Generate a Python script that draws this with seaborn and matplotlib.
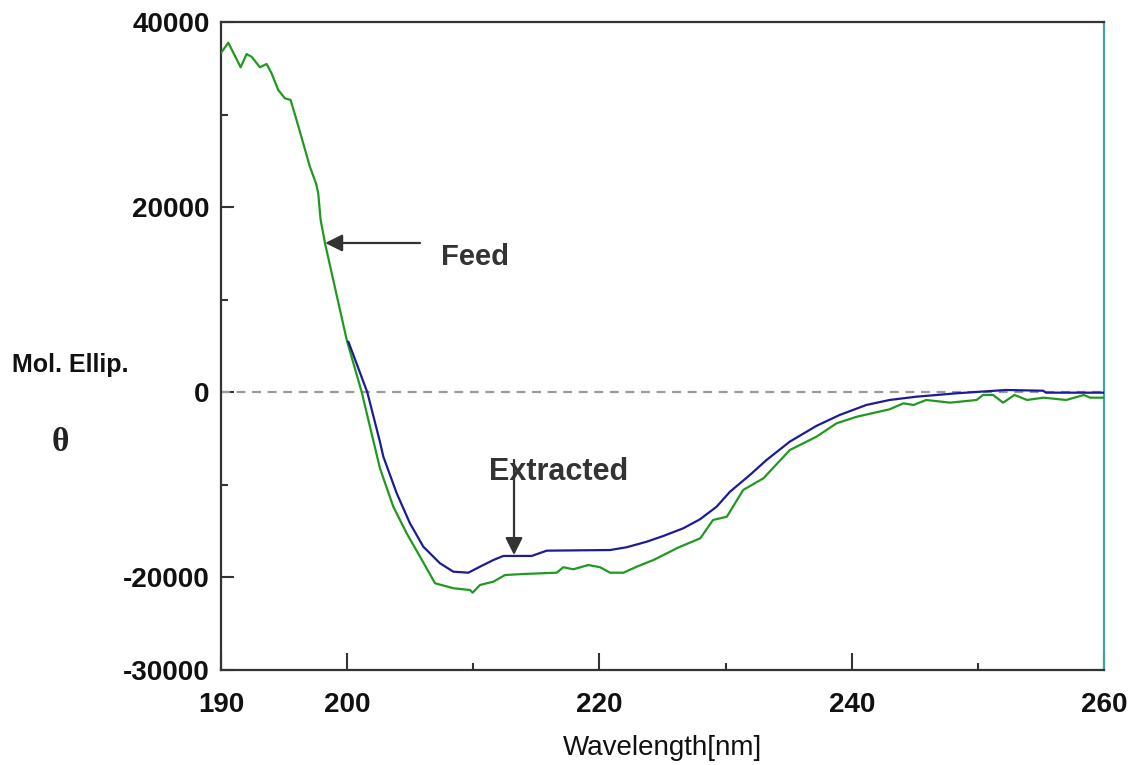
import matplotlib
matplotlib.use("Agg")
import matplotlib.pyplot as plt
from matplotlib import font_manager
import seaborn as sns
import pandas as pd

# ---- data ----
feed_wl = [190.0, 190.58, 191.56, 192.03, 192.43, 193.09, 193.62, 194.01, 194.54, 195.07,
           195.52, 195.99, 196.52, 197.05, 197.53, 197.71, 197.90, 198.26, 199.97, 201.16,
           202.6, 203.66, 204.72, 205.78, 206.97, 208.42, 209.74, 209.95, 210.53, 211.59,
           212.52, 213.97, 216.61, 217.14, 217.93, 219.12, 220.05, 220.84, 221.90, 222.96,
           224.28, 225.60, 226.2, 228.0, 229.0, 230.1, 231.4, 233.0, 235.1, 237.2,
           238.8, 240.4, 243.0, 244.1, 244.9, 245.9, 247.8, 249.9, 250.4, 251.2,
           252.0, 252.9, 253.9, 255.2, 257.0, 258.4, 258.9, 260.0]
feed_val = [36650, 37770, 35110, 36540, 36250, 35110, 35470, 34460, 32660, 31760,
            31580, 29420, 26900, 24370, 22580, 21500, 18610, 16020, 5650, 0,
            -8200, -12360, -15230, -17760, -20630, -21170, -21360, -21650, -20820, -20460,
            -19740, -19630, -19490, -18900, -19120, -18660, -18900, -19490, -19490, -18840,
            -18120, -17220, -16800, -15770, -13800, -13440, -10550, -9290, -6230, -4800,
            -3350, -2640, -1840, -1190, -1370, -830, -1120, -830, -290, -290,
            -1120, -290, -830, -580, -830, -290, -580, -580]

ext_wl = [200.10, 201.6, 202.6, 202.87, 203.93, 204.98, 206.04, 207.36, 208.42, 209.61,
          210.53, 211.59, 212.38, 214.63, 215.82, 220.84, 222.16, 223.75, 225.07, 226.65,
          227.97, 229.29, 230.35, 231.93, 233.25, 235.08, 237.19, 239.04, 241.16, 243.0,
          245.13, 248.3, 252.24, 255.17, 255.4, 260.0]
ext_val = [5470, 0, -5340, -6950, -10910, -14150, -16680, -18470, -19380, -19490,
           -18840, -18120, -17680, -17680, -17110, -17040, -16740, -16140, -15520, -14690,
           -13720, -12360, -10740, -8930, -7310, -5340, -3640, -2450, -1370, -830,
           -475, -110, 250, 170, -40, -40]

x_ticklabels = [190, 200, 220, 240, 260]
y_ticklabels = [-30000, -20000, 0, 20000, 40000]

# ---- fonts ----
sns.set_style("white")
avail = {f.name for f in font_manager.fontManager.ttflist}
sans = "Liberation Sans" if "Liberation Sans" in avail else "DejaVu Sans"
serif = "Liberation Serif" if "Liberation Serif" in avail else "DejaVu Serif"
plt.rcParams["font.family"] = [sans, "DejaVu Sans"]

fig = plt.figure(figsize=(11.32, 7.65), dpi=100)
ax = fig.add_axes([0.1952, 0.1242, 0.7801, 0.847])

feed_df = pd.DataFrame({"wl": feed_wl, "val": feed_val})
ext_df = pd.DataFrame({"wl": ext_wl, "val": ext_val})

ax.axhline(0, color="#9a9a9a", lw=1.6, dashes=(4, 3), zorder=1)
sns.lineplot(data=feed_df, x="wl", y="val", ax=ax, color="#1f9a1f", lw=1.6,
             sort=False, estimator=None, zorder=3)
sns.lineplot(data=ext_df, x="wl", y="val", ax=ax, color="#1c1c96", lw=1.6,
             sort=False, estimator=None, zorder=4)

ax.set_xlim(190, 260)
ax.set_ylim(-30000, 40000)

ax.set_xticks(x_ticklabels)
ax.set_xticklabels([str(v) for v in x_ticklabels], fontsize=20, fontweight="bold")
ax.set_xticks([210, 230, 250], minor=True)
ax.set_yticks(y_ticklabels)
ax.set_yticklabels([str(v) for v in y_ticklabels], fontsize=20, fontweight="bold")
ax.set_yticks([-10000, 10000, 30000], minor=True)

ax.tick_params(axis="x", which="major", direction="in", length=12, width=1.5,
               color="#333333", pad=16, labelcolor="#111111")
ax.tick_params(axis="x", which="minor", direction="in", length=5, width=1.5,
               color="#333333")
ax.tick_params(axis="y", which="major", direction="in", length=9.5, width=1.5,
               color="#333333", pad=8, labelcolor="#111111")
ax.tick_params(axis="y", which="minor", direction="in", length=5, width=1.5,
               color="#333333")
ax.tick_params(bottom=True, left=True, which="both")

for s in ["left", "bottom", "top"]:
    ax.spines[s].set_color("#333333")
    ax.spines[s].set_linewidth(1.6)
    ax.spines[s].set_visible(True)
ax.spines["right"].set_visible(True)
ax.spines["right"].set_color("#3aa6b0")
ax.spines["right"].set_linewidth(1.6)

ax.set_xlabel("Wavelength[nm]", fontsize=20, labelpad=12, color="#111111")
ax.set_ylabel("")

fig.text(0.0618, 0.523, "Mol. Ellip.", fontsize=18, fontweight="bold",
         ha="center", va="center", color="#111111")
fig.text(0.053, 0.421, "θ", fontsize=24, fontweight="bold", family=serif,
         ha="center", va="center", color="#222222")

# annotations
ax.annotate("", xy=(198.26, 16130), xytext=(205.78, 16130),
            arrowprops=dict(arrowstyle="-|>", color="#333333", lw=1.6,
                            mutation_scale=26, shrinkA=0, shrinkB=0))
ax.text(210.14, 14620, "Feed", fontsize=21, fontweight="bold",
        ha="center", va="center", color="#333333")
ax.annotate("", xy=(213.23, -17580), xytext=(213.23, -7300),
            arrowprops=dict(arrowstyle="-|>", color="#333333", lw=1.6,
                            mutation_scale=26, shrinkA=0, shrinkB=0), zorder=5)
ax.text(216.8, -8640, "Extracted", fontsize=22, fontweight="bold",
        ha="center", va="center", color="#333333", zorder=6)

fig.savefig("out.png", dpi=100, facecolor="white")
